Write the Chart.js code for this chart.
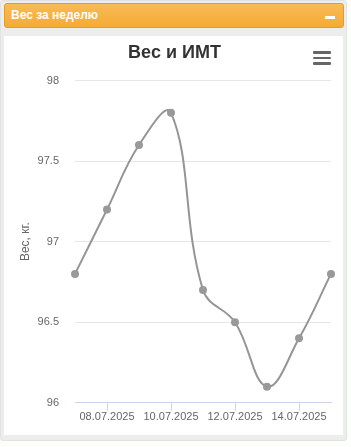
<!DOCTYPE html>
<html>
<head>
<meta charset="utf-8">
<script src="https://cdn.jsdelivr.net/npm/chart.js@4/dist/chart.umd.min.js"></script>
<style>
  html, body { margin: 0; padding: 0; background: #fbfefb; }
  body { width: 351px; height: 447px; position: relative; overflow: hidden; font-family: "Liberation Sans", Arial, sans-serif; }
  .box { position: absolute; left: 0; top: 0; width: 345px; height: 439px; background: #ededed; border: 1px solid #e2e2e2; border-radius: 3px; }
  .head { position: absolute; left: 3px; top: 2px; width: 338px; height: 23px; border: 1px solid #e99a25; border-radius: 3px;
          background: linear-gradient(#f8bb55, #f5aa36); color: #fff; font-weight: bold; font-size: 12px; line-height: 23px; }
  .head span { position: absolute; left: 6px; }
  .head i { position: absolute; left: 320px; top: 12px; width: 10px; height: 3px; background: #fff; }
  .panel { position: absolute; left: 4px; top: 36px; width: 339px; height: 399px; background: #fff; }
  .menu { position: absolute; left: 309px; top: 15px; width: 18px; }
  .menu b { display: block; height: 2.5px; background: #666; margin-bottom: 3px; border-radius: 1px; }
</style>
</head>
<body>
<div class="box">
  <div class="head"><span>Вес за неделю</span><i></i></div>
</div>
<div class="panel">
  <canvas id="c" width="339" height="399"></canvas>
  <div class="menu"><b></b><b></b><b></b></div>
</div>
<script>
const days = ["07.07.2025", "08.07.2025", "09.07.2025", "10.07.2025", "11.07.2025",
              "12.07.2025", "13.07.2025", "14.07.2025", "15.07.2025"]
const weight = [96.8, 97.2, 97.6, 97.8, 96.7, 96.5, 96.1, 96.4, 96.8]
const yTicks = [96, 96.5, 97, 97.5, 98]

new Chart(document.getElementById("c"), {
  type: "line",
  data: {
    labels: days,
    datasets: [{
      data: weight,
      borderColor: "#959595",
      backgroundColor: "#999999",
      borderWidth: 2,
      pointRadius: 4,
      pointBorderWidth: 0,
      tension: 0.4
    }]
  },
  options: {
    responsive: false,
    animation: false,
    layout: { padding: { left: 14, right: 12, top: 0, bottom: 11 } },
    plugins: {
      legend: { display: false },
      tooltip: { enabled: false },
      title: {
        display: true,
        text: "Вес и ИМТ",
        color: "#333",
        font: { family: "Liberation Sans", size: 18, weight: "bold" },
        padding: { top: 6, bottom: 17 }
      }
    },
    scales: {
      y: {
        min: 96, max: 98,
        afterBuildTicks: ax => { ax.ticks = yTicks.map(v => ({ value: v })) },
        afterFit: s => { s.width = 57 },
        ticks: { color: "#666", font: { family: "Liberation Sans", size: 11 }, padding: 16,
                 callback: v => String(v) },
        grid: { color: "#e6e6e6", drawTicks: false },
        border: { display: false },
        title: { display: true, text: "Вес, кг.", color: "#666", font: { family: "Liberation Sans", size: 12 }, padding: 0 }
      },
      x: {
        offset: false,
        afterFit: s => { s.paddingLeft = 0; s.paddingRight = 0 },
        ticks: {
          autoSkip: false, maxRotation: 0, color: "#666", padding: 0,
          font: { family: "Liberation Sans", size: 11 },
          callback: (v, i) => i % 2 ? days[i] : null
        },
        grid: { drawOnChartArea: false, color: "#ccd6eb", tickLength: 8 },
        border: { color: "#ccd6eb" }
      }
    }
  }
})
</script>
</body>
</html>
